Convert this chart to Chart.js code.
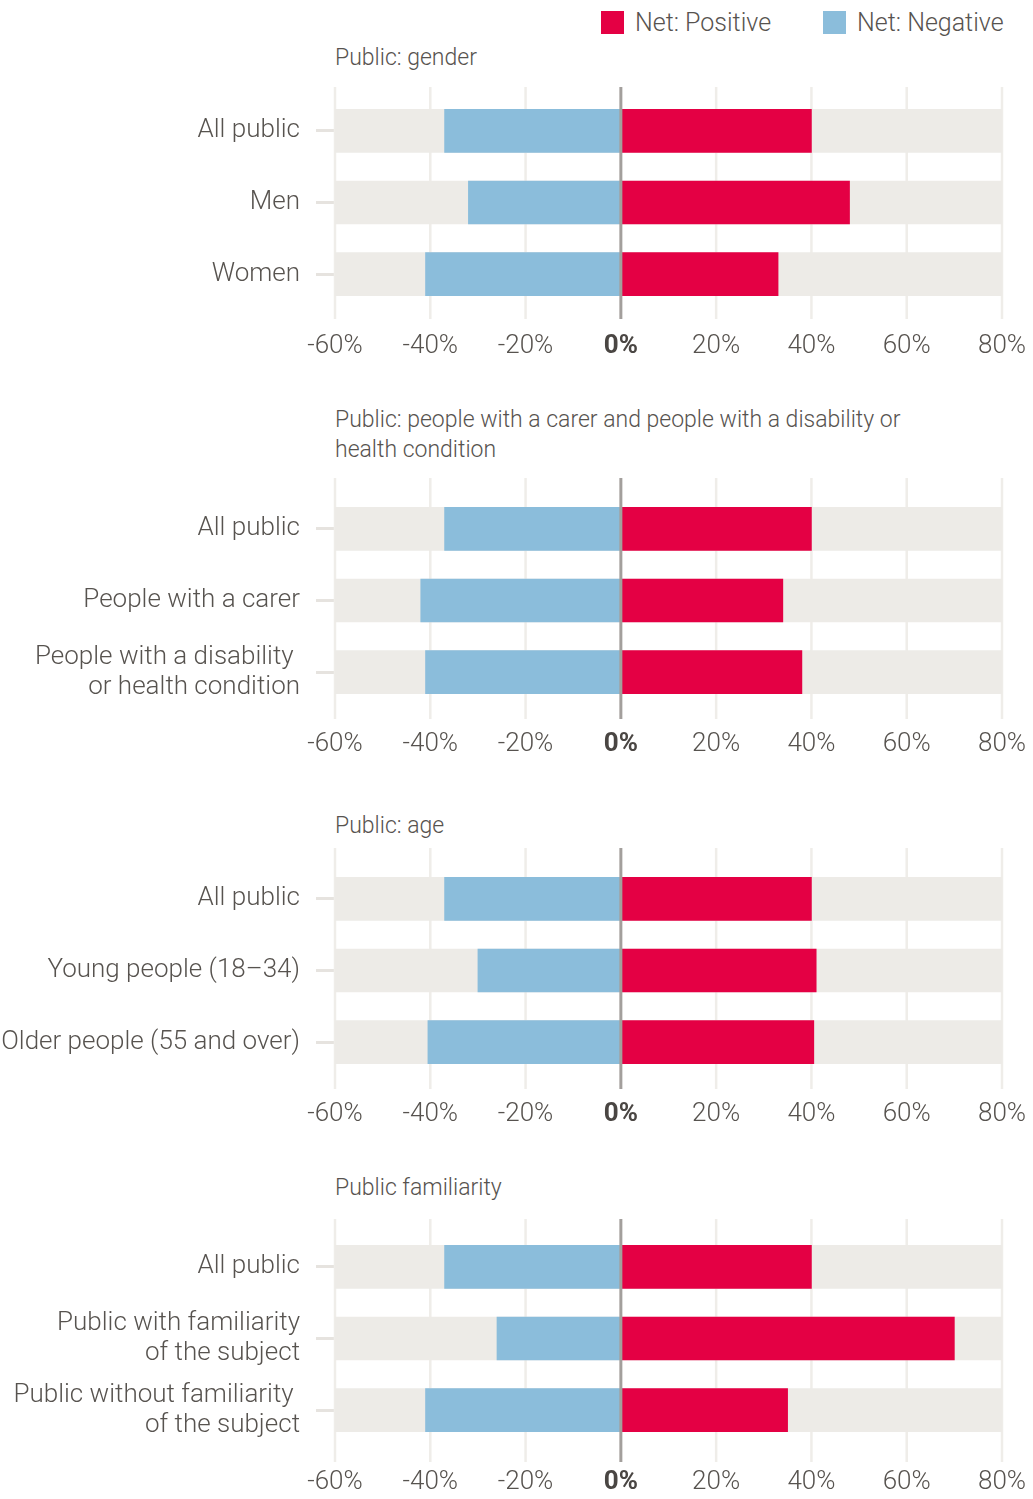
<!DOCTYPE html>
<html>
<head>
<meta charset="utf-8">
<script src="https://cdn.jsdelivr.net/npm/chart.js@4.4.1/dist/chart.umd.min.js"></script>
<style>
  html, body { margin: 0; padding: 0; background: #ffffff; }
  body { width: 1033px; height: 1499px; position: relative; overflow: hidden; font-family: Roboto, "Liberation Sans", sans-serif; font-weight: 300; color: #57534f; }
  .panel { position: absolute; left: 0; }
  .title { position: absolute; left: 335px; font-size: 23px; line-height: 30px; color: #57534f; white-space: nowrap; }
  #legend { position: absolute; left: 601px; top: 11px; display: flex; align-items: center; }
  .lg-item { display: flex; align-items: center; font-size: 25px; line-height: 23px; color: #57534f; }
  .lg-box { width: 23px; height: 23px; margin-right: 11px; }
</style>
</head>
<body>
<div id="legend"></div>
<div class="title" style="top:43px">Public: gender</div>
<div class="title" style="top:405px">Public: people with a carer and people with a disability or<br>health condition</div>
<div class="title" style="top:811px">Public: age</div>
<div class="title" style="top:1173px">Public familiarity</div>

<div class="panel" style="top:45px"><canvas id="c1" width="1033" height="320"></canvas></div>
<div class="panel" style="top:443px"><canvas id="c2" width="1033" height="320"></canvas></div>
<div class="panel" style="top:813px"><canvas id="c3" width="1033" height="320"></canvas></div>
<div class="panel" style="top:1181px"><canvas id="c4" width="1033" height="320"></canvas></div>

<script>
// ---------- DATA ----------
const seriesNames = ["Net: Positive", "Net: Negative"];
const axisRange = [-60, 80];
const tickStep = 20;

const genderLabels = ["All public", "Men", "Women"];
const genderPositive = [40, 48, 33];
const genderNegative = [-37, -32, -41];

const carerLabels = ["All public", "People with a carer", ["People with a disability ", "or health condition"]];
const carerPositive = [40, 34, 38];
const carerNegative = [-37, -42, -41];

const ageLabels = ["All public", "Young people (18–34)", "Older people (55 and over)"];
const agePositive = [40, 41, 40.5];
const ageNegative = [-37, -30, -40.5];

const familiarityLabels = ["All public", ["Public with familiarity", "of the subject"], ["Public without familiarity ", "of the subject"]];
const familiarityPositive = [40, 70, 35];
const familiarityNegative = [-37, -26, -41];

// ---------- STYLE ----------
const RED = "#e40044";
const BLUE = "#8bbddb";
const TRACK = "#edebe7";
const GRID = "#efede9";
const ZERO = "#a39f9c";
const TEXT = "#57534f";
const FONT = "Roboto, 'Liberation Sans', sans-serif";

const gridPlugin = {
  id: "extGrid",
  beforeDatasetsDraw(chart, args, opts) {
    const { ctx, chartArea, scales } = chart;
    const x = scales.x;
    ctx.save();
    ctx.lineWidth = 2.5;
    ctx.strokeStyle = GRID;
    x.ticks.forEach(t => {
      if (t.value === 0) return;
      const px = x.getPixelForValue(t.value);
      ctx.beginPath();
      ctx.moveTo(px, chartArea.top - opts.ext[0]);
      ctx.lineTo(px, chartArea.bottom + opts.ext[1]);
      ctx.stroke();
    });
    ctx.restore();
  },
  afterDatasetsDraw(chart, args, opts) {
    const { ctx, chartArea, scales } = chart;
    const px = scales.x.getPixelForValue(0);
    ctx.save();
    ctx.lineWidth = 3;
    ctx.strokeStyle = ZERO;
    ctx.beginPath();
    ctx.moveTo(px, chartArea.top - opts.ext[0]);
    ctx.lineTo(px, chartArea.bottom + opts.ext[1]);
    ctx.stroke();
    ctx.restore();
  }
};

function makeChart(id, labels, pos, neg, ext) {
  return new Chart(document.getElementById(id), {
    type: "bar",
    data: {
      labels: labels,
      datasets: [
        { label: seriesNames[0], data: pos, backgroundColor: RED, order: 1 },
        { label: seriesNames[1], data: neg, backgroundColor: BLUE, order: 1 },
        { label: "track", data: labels.map(() => axisRange.slice()), backgroundColor: TRACK, order: 2 }
      ]
    },
    options: {
      indexAxis: "y",
      responsive: false,
      animation: false,
      layout: { padding: { top: 50, right: 31, left: 0, bottom: 0 } },
      datasets: { bar: { barThickness: 43, grouped: false, borderWidth: 0 } },
      plugins: {
        legend: { display: false },
        tooltip: { enabled: false },
        extGrid: { ext: ext }
      },
      scales: {
        x: {
          min: axisRange[0], max: axisRange[1],
          afterFit(s) { s.height = 55; },
          grid: { display: false, drawTicks: true, tickLength: 21 },
          border: { display: false },
          ticks: {
            stepSize: tickStep,
            padding: 0,
            callback: v => v + "%",
            color: c => c.tick && c.tick.value === 0 ? "#4a4643" : TEXT,
            font: c => ({ family: FONT, size: 26, weight: (c.tick && c.tick.value === 0) ? "bold" : "300", lineHeight: 1.2 })
          }
        },
        y: {
          afterFit(s) { s.width = 335; },
          grid: { display: true, offset: false, drawOnChartArea: false, drawTicks: true, tickLength: 19, tickColor: "#e6e3df", tickWidth: 3 },
          border: { display: false },
          ticks: {
            padding: 16,
            color: TEXT,
            font: { family: FONT, size: 26, weight: "300", lineHeight: 1.154 }
          }
        }
      }
    },
    plugins: [gridPlugin]
  });
}

const charts = [
  makeChart("c1", genderLabels, genderPositive, genderNegative, [8, 9]),
  makeChart("c2", carerLabels, carerPositive, carerNegative, [15, 11]),
  makeChart("c3", ageLabels, agePositive, ageNegative, [15, 11]),
  makeChart("c4", familiarityLabels, familiarityPositive, familiarityNegative, [12, 16])
];

// HTML legend built from the chart's own legend items
(function buildLegend() {
  const chart = charts[0];
  const items = Chart.defaults.plugins.legend.labels.generateLabels(chart).filter(i => i.text !== "track");
  const box = document.getElementById("legend");
  items.forEach((it, i) => {
    const el = document.createElement("div");
    el.className = "lg-item";
    if (i > 0) el.style.marginLeft = "52px";
    const sw = document.createElement("span");
    sw.className = "lg-box";
    sw.style.background = it.fillStyle;
    const tx = document.createElement("span");
    tx.textContent = it.text;
    el.appendChild(sw); el.appendChild(tx);
    box.appendChild(el);
  });
})();
</script>
</body>
</html>
